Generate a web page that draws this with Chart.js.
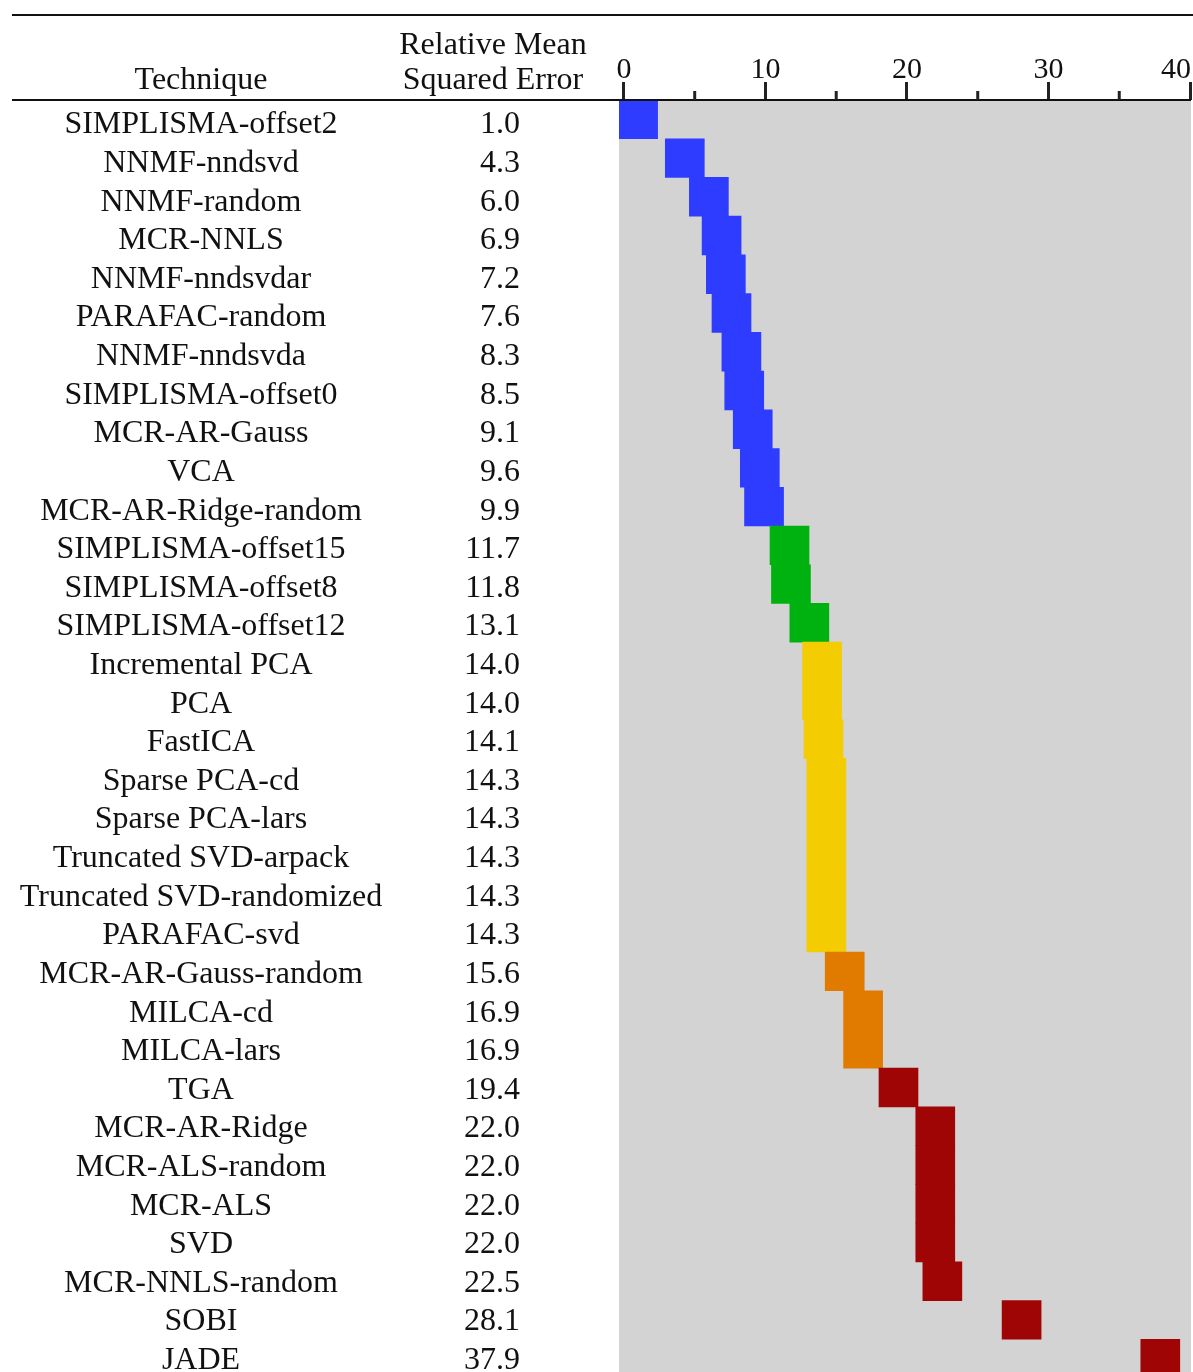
<!DOCTYPE html>
<html lang="en">
<head>
<meta charset="UTF-8">
<title>Relative Mean Squared Error by Technique</title>
<script src="https://cdn.jsdelivr.net/npm/chart.js"></script>
<style>
    html, body {
        margin: 0;
        padding: 0;
        background: #fff;
        overflow: hidden;
    }
    #chartCanvas {
        display: block;
    }
</style>
</head>
<body>
<canvas id="chartCanvas" width="1193" height="1378"></canvas>
<script>
    const techniques = [
        'SIMPLISMA-offset2', 'NNMF-nndsvd', 'NNMF-random', 'MCR-NNLS', 'NNMF-nndsvdar',
        'PARAFAC-random', 'NNMF-nndsvda', 'SIMPLISMA-offset0', 'MCR-AR-Gauss', 'VCA',
        'MCR-AR-Ridge-random', 'SIMPLISMA-offset15', 'SIMPLISMA-offset8', 'SIMPLISMA-offset12',
        'Incremental PCA', 'PCA', 'FastICA', 'Sparse PCA-cd', 'Sparse PCA-lars',
        'Truncated SVD-arpack', 'Truncated SVD-randomized', 'PARAFAC-svd', 'MCR-AR-Gauss-random',
        'MILCA-cd', 'MILCA-lars', 'TGA', 'MCR-AR-Ridge', 'MCR-ALS-random', 'MCR-ALS', 'SVD',
        'MCR-NNLS-random', 'SOBI', 'JADE'
    ];
    const errors = [
        1.0, 4.3, 6.0, 6.9, 7.2, 7.6, 8.3, 8.5, 9.1, 9.6, 9.9,
        11.7, 11.8, 13.1,
        14.0, 14.0, 14.1, 14.3, 14.3, 14.3, 14.3, 14.3,
        15.6, 16.9, 16.9,
        19.4, 22.0, 22.0, 22.0, 22.0, 22.5, 28.1, 37.9
    ];
    const xTicks = [0, 10, 20, 30, 40];
    const minorTicks = [5, 15, 25, 35];

    // colour bands: upper limit of each band, last one open
    const bandLimits = [10, 13.5, 15, 19];
    const bandColors = ['#2e3cff', '#00b20f', '#f4cc02', '#e07b00', '#9f0505'];

    const HALF = 1.378;   // half the square side, in axis units
    const FONT = '32px "Liberation Serif", "Times New Roman", serif';
    const TICK_FONT = '30px "Liberation Serif", "Times New Roman", serif';
    const INK = '#111';

    function colorFor(v) {
        let i = 0;
        while (i < bandLimits.length && v >= bandLimits[i]) i++;
        return bandColors[i];
    }

    const tablePlugin = {
        id: 'table',
        beforeDraw(chart) {
            const { ctx, chartArea: a } = chart;
            ctx.save();
            ctx.fillStyle = '#fff';
            ctx.fillRect(0, 0, chart.width, chart.height);
            ctx.fillStyle = '#d3d3d3';
            ctx.fillRect(a.left, a.top, a.right - a.left, a.bottom - a.top);
            ctx.restore();
        },
        afterDraw(chart) {
            const { ctx, chartArea: a } = chart;
            const xs = chart.scales.x;
            const ys = chart.scales.y;
            ctx.save();

            // top rule and header rule
            ctx.strokeStyle = INK;
            ctx.lineWidth = 2;
            ctx.beginPath();
            ctx.moveTo(12, 15);
            ctx.lineTo(chart.width, 15);
            ctx.stroke();
            ctx.beginPath();
            ctx.moveTo(12, a.top);
            ctx.lineTo(a.right, a.top);
            ctx.stroke();

            // minor ticks
            ctx.strokeStyle = '#222';
            ctx.lineWidth = 3;
            minorTicks.forEach(v => {
                const px = xs.getPixelForValue(v);
                ctx.beginPath();
                ctx.moveTo(px, a.top - 9);
                ctx.lineTo(px, a.top);
                ctx.stroke();
            });

            // tick labels (last one kept inside the page)
            ctx.fillStyle = INK;
            ctx.font = TICK_FONT;
            ctx.textBaseline = 'alphabetic';
            xs.ticks.forEach(t => {
                const px = xs.getPixelForValue(t.value);
                const label = String(t.value);
                const w = ctx.measureText(label).width;
                if (px + w / 2 > chart.width) {
                    ctx.textAlign = 'right';
                    ctx.fillText(label, px + 1, 78);
                } else {
                    ctx.textAlign = 'center';
                    ctx.fillText(label, px, 78);
                }
            });

            // column headers
            ctx.font = FONT;
            ctx.textAlign = 'center';
            ctx.fillText('Technique', 201, 89);
            ctx.fillText('Relative Mean', 493, 54);
            ctx.fillText('Squared Error', 493, 89);

            // table rows (table text runs on a slightly tighter pitch than the squares)
            techniques.forEach((name, i) => {
                const py = ys.getPixelForValue(i) + 14 - i * 0.11;
                ctx.textAlign = 'center';
                ctx.fillText(name, 201, py);
                ctx.textAlign = 'right';
                ctx.fillText(errors[i].toFixed(1), 520, py);
            });

            ctx.restore();
        }
    };

    new Chart(document.getElementById('chartCanvas'), {
        type: 'bar',
        data: {
            labels: techniques,
            datasets: [{
                data: errors.map(v => [v - HALF, v + HALF]),
                backgroundColor: errors.map(colorFor),
                borderWidth: 0,
                borderSkipped: false,
                barPercentage: 1,
                categoryPercentage: 1
            }]
        },
        options: {
            indexAxis: 'y',
            responsive: false,
            animation: false,
            layout: {
                padding: { left: 619, right: 2, top: 0, bottom: 0 }
            },
            plugins: {
                legend: { display: false },
                tooltip: { enabled: false }
            },
            scales: {
                x: {
                    type: 'linear',
                    position: 'top',
                    min: -0.35,
                    max: 40.07,
                    afterBuildTicks: scale => {
                        scale.ticks = xTicks.map(v => ({ value: v }));
                    },
                    afterFit: scale => {
                        scale.height = 100;
                        scale.paddingLeft = 0;
                        scale.paddingRight = 0;
                    },
                    ticks: { display: false },
                    border: { display: false },
                    grid: {
                        drawOnChartArea: false,
                        drawTicks: true,
                        tickLength: 18,
                        tickWidth: 3,
                        tickColor: '#222'
                    }
                },
                y: {
                    type: 'category',
                    display: false
                }
            }
        },
        plugins: [tablePlugin]
    });
</script>
</body>
</html>
